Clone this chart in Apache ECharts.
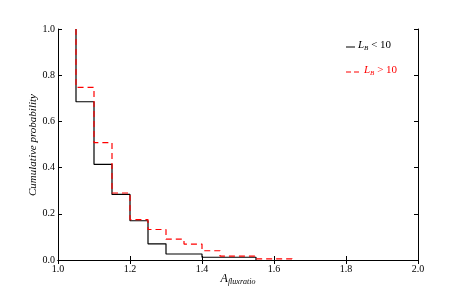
<!DOCTYPE html>
<html><head><meta charset="utf-8">
<script src="https://cdn.jsdelivr.net/npm/echarts@6/dist/echarts.min.js"></script>
<style>html,body{margin:0;padding:0;background:#fff}#c{width:463px;height:290px}</style>
</head><body><div id="c"></div>
<script>
// Data (step edges and cumulative values)
const blackEdges = [1.05, 1.05, 1.10, 1.15, 1.20, 1.25, 1.30, 1.40, 1.55];
const blackVals  = [1.00, 0.685, 0.414, 0.284, 0.170, 0.070, 0.026, 0.012, 0.0];
const redEdges   = [1.05, 1.05, 1.10, 1.15, 1.20, 1.25, 1.30, 1.35, 1.40, 1.45, 1.55, 1.65];
const redVals    = [1.00, 0.747, 0.508, 0.290, 0.175, 0.132, 0.090, 0.069, 0.040, 0.017, 0.005, 0.0];
const xTicks = [1.0, 1.2, 1.4, 1.6, 1.8, 2.0];
const yTicks = [0.0, 0.2, 0.4, 0.6, 0.8, 1.0];
const legendNames = ['L_B < 10', 'L_B > 10'];

const serif = 'Liberation Serif';
const zip = (a, b) => a.map((v, i) => [v, b[i]]);
const chart = echarts.init(document.getElementById('c'));
const axisCommon = {
  axisLine: {show: true, lineStyle: {color: '#000', width: 1}},
  axisTick: {show: true, inside: true, length: 4, lineStyle: {color: '#000'}},
  splitLine: {show: false}
};
chart.setOption({
  animation: false,
  backgroundColor: '#fff',
  grid: {left: 58, right: 45, top: 29, bottom: 30},
  xAxis: [
    Object.assign({type: 'value', min: 1.0, max: 2.0, interval: 0.2, position: 'bottom',
      axisLabel: {color: '#000', fontFamily: serif, fontSize: 10, margin: 4,
        formatter: v => v.toFixed(1)}}, axisCommon),
    Object.assign({type: 'value', min: 1.0, max: 2.0, interval: 0.2, position: 'top',
      axisLabel: {show: false}}, axisCommon)
  ],
  yAxis: [
    Object.assign({type: 'value', min: 0, max: 1, interval: 0.2, position: 'left',
      axisLabel: {color: '#000', fontFamily: serif, fontSize: 10, margin: 3,
        formatter: v => v.toFixed(1)}}, axisCommon),
    Object.assign({type: 'value', min: 0, max: 1, interval: 0.2, position: 'right',
      axisLabel: {show: false}}, axisCommon)
  ],
  series: [
    {type: 'line', step: 'end', symbol: 'none', data: zip(blackEdges, blackVals),
     lineStyle: {color: '#000', width: 1.2}, z: 3},
    {type: 'line', step: 'end', symbol: 'none', data: zip(redEdges, redVals),
     lineStyle: {color: '#ff0000', width: 1.2, type: [6, 4]}, z: 4}
  ],
  graphic: [
    {type: 'line', shape: {x1: 346, y1: 47, x2: 355, y2: 47}, style: {stroke: '#000', lineWidth: 1}},
    {type: 'text', left: 358, top: 40, style: {
      text: '{i|L}{s|B}{n| < 10}',
      rich: {i: {fontFamily: serif, fontStyle: 'italic', fontSize: 11, fill: '#000'},
             s: {fontFamily: serif, fontStyle: 'italic', fontSize: 7, fill: '#000', padding: [5, 0, 0, 0]},
             n: {fontFamily: serif, fontSize: 11, fill: '#000'}}}},
    {type: 'line', shape: {x1: 346, y1: 72, x2: 361, y2: 72}, style: {stroke: '#ff0000', lineWidth: 1, lineDash: [5, 3]}},
    {type: 'text', left: 364, top: 65, style: {
      text: '{i|L}{s|B}{n| > 10}',
      rich: {i: {fontFamily: serif, fontStyle: 'italic', fontSize: 11, fill: '#ff0000'},
             s: {fontFamily: serif, fontStyle: 'italic', fontSize: 7, fill: '#ff0000', padding: [5, 0, 0, 0]},
             n: {fontFamily: serif, fontSize: 11, fill: '#ff0000'}}}},
    {type: 'text', x: 238, y: 272, style: {
      text: '{i|A}{s|fluxratio}', align: 'center',
      rich: {i: {fontFamily: serif, fontStyle: 'italic', fontSize: 12, fill: '#000'},
             s: {fontFamily: serif, fontStyle: 'italic', fontSize: 8, fill: '#000', padding: [6, 0, 0, 0]}}}},
    {type: 'text', x: 33, y: 145, rotation: Math.PI / 2, style: {
      text: 'Cumulative probability', align: 'center', verticalAlign: 'middle',
      fontFamily: serif, fontStyle: 'italic', fontSize: 11, fill: '#000'}}
  ]
});
</script></body></html>
